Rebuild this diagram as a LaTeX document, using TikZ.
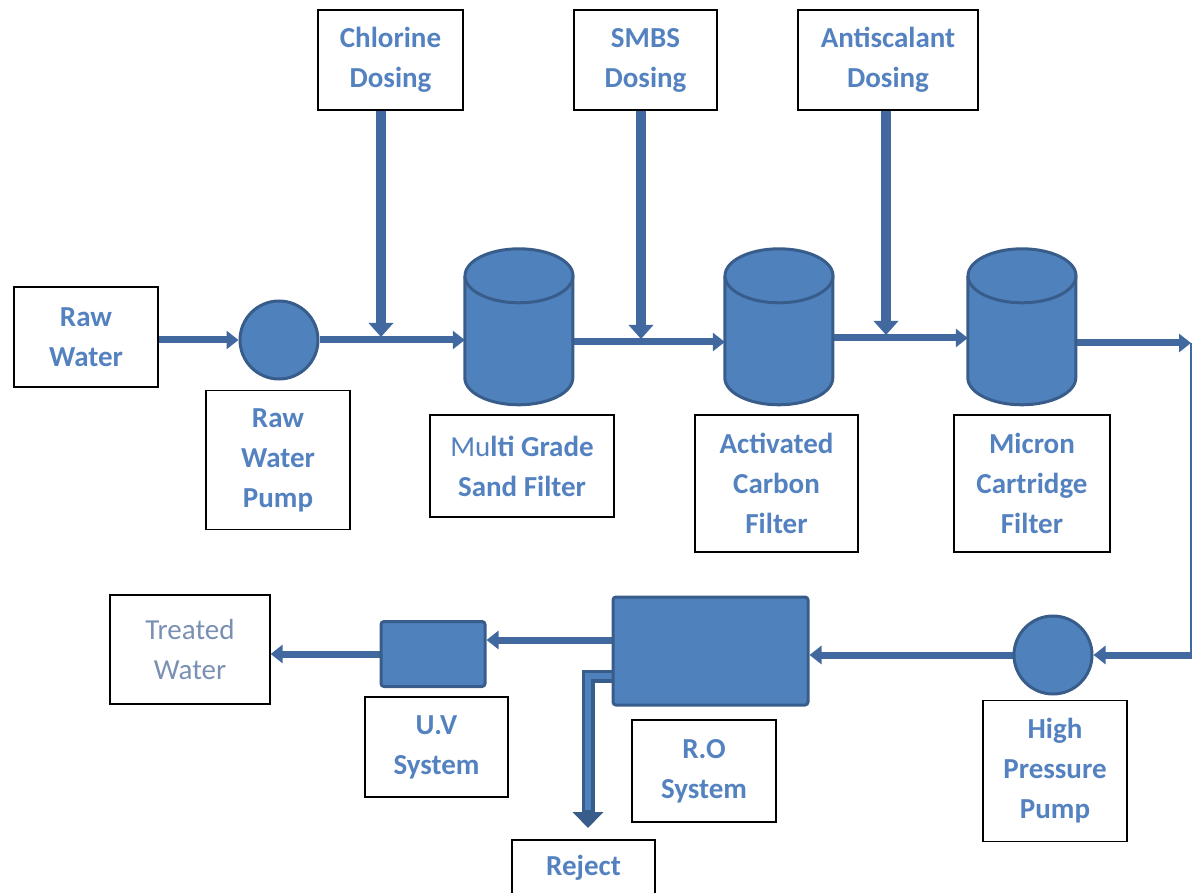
\documentclass[tikz,border=0pt]{standalone}
\usepackage{fontspec}
\setmainfont{Carlito}
\usetikzlibrary{arrows.meta,positioning,backgrounds}

\definecolor{tankfill}{HTML}{4F81BD}
\definecolor{tankedge}{HTML}{385D8A}
\definecolor{pipeblue}{HTML}{41699F}
\definecolor{labelblue}{HTML}{5482C0}
\definecolor{softblue}{HTML}{7A90B2}

% upright cylinder drawn over an empty node
\newcommand{\drawtank}[1]{%
  \fill[tankfill] (#1.north west) ++(0,27) -- ++(0,102)
    arc[start angle=180, end angle=0, x radius=54, y radius=27] -- ++(0,-102) -- cycle;
  \draw[tankedge, line width=3pt] (#1.north west) ++(0,27) -- ++(0,102)
    arc[start angle=180, end angle=0, x radius=54, y radius=27] -- ++(0,-102);
  \draw[tankedge, fill=tankfill, line width=3pt] (#1.north) ++(0,27) ellipse[x radius=54, y radius=27];
}

\begin{document}
\begin{tikzpicture}[
    x=1pt, y=-1pt,
    namebox/.style={draw, line width=1.3pt, fill=white, align=center, text=labelblue, font=\fontsize{29}{40}\selectfont\bfseries, inner sep=0pt},
    pump/.style={circle, draw=tankedge, line width=3pt, fill=tankfill, minimum size=78pt, inner sep=0pt},
    tank/.style={rectangle, minimum width=108pt, minimum height=156pt, inner sep=0pt},
    unit/.style={rectangle, rounded corners=3pt, draw=tankedge, line width=3pt, fill=tankfill, inner sep=0pt},
    pipe/.style={draw=pipeblue, line width=7pt, -{Triangle[length=12pt, width=18pt]}},
    feed/.style={draw=pipeblue, line width=10pt, -{Triangle[length=14pt, width=24pt]}}
  ]
    \useasboundingbox (0,0) rectangle (1192,893);

    % dosing boxes
    \node[namebox, minimum width=145pt, minimum height=100pt] (chl) at (390.5,60) {Chlorine\\Dosing};
    \node[namebox, minimum width=143pt, minimum height=100pt] (smbs) at (645.5,60) {SMBS\\Dosing};
    \node[namebox, minimum width=180pt, minimum height=100pt] (anti) at (888,60) {Antiscalant\\Dosing};

    % pre-treatment line
    \node[namebox, minimum width=144pt, minimum height=100pt] (raw) at (86,337) {Raw\\Water};
    \node[pump] (rwp) at (279,340) {};
    \node[tank] (mgs) at (519,327) {};
    \node[tank] (acf) at (779,327) {};
    \node[tank] (mcf) at (1022,327) {};

    \node[namebox, minimum width=144pt, minimum height=139pt] (rwptag) at (278,460) {Raw\\Water\\Pump};
    \node[namebox, minimum width=184pt, minimum height=102pt] (mgstag) at (522,466) {{\mdseries Mu}lti Grade\\Sand Filter};
    \node[namebox, minimum width=163pt, minimum height=137pt] (acftag) at (776.5,483.5) {Activated\\Carbon\\Filter};
    \node[namebox, minimum width=156pt, minimum height=137pt] (mcftag) at (1032,483.5) {Micron\\Cartridge\\Filter};

    % R.O line
    \node[pump] (hp) at (1053,655) {};
    \node[unit, minimum width=195pt, minimum height=108pt] (ro) at (710.5,651) {};
    \node[unit, minimum width=104pt, minimum height=65pt] (uv) at (433,654) {};

    \node[namebox, minimum width=144pt, minimum height=141pt] (hptag) at (1055,771) {High\\Pressure\\Pump};
    \node[namebox, minimum width=144pt, minimum height=102pt] (rotag) at (704,771) {R.O\\System};
    \node[namebox, minimum width=143pt, minimum height=100pt] (uvtag) at (436.5,747) {U.V\\System};
    \node[namebox, minimum width=160pt, minimum height=109pt, text=softblue, font=\fontsize{29}{40}\selectfont] (treated) at (190,649.5) {Treated\\Water};
    \node[namebox, minimum width=143pt, minimum height=56pt] (reject) at (583.5,868) {Reject};

    \coordinate (ne) at (1191,343);
    \coordinate (se) at (1192,655);
    \coordinate (rejtip) at (588,828);
    \coordinate (chlout) at (381,110);
    \coordinate (smbsout) at (641,110);
    \coordinate (antiout) at (886,110);

    \begin{scope}[on background layer]
      \draw[pipe] (raw.east |- rwp) -- (rwp.west);
      \draw[pipe] (rwp.east) -- (rwp.east -| mgs.west);
      \draw[pipe] (mgs.east |- 0,342) -- (acf.west |- 0,342);
      \draw[pipe] (acf.east |- 0,338) -- (mcf.west |- 0,338);
      \draw[pipe] (mcf.east |- ne) -- (ne);
      \draw[draw=pipeblue, line width=3pt] (ne) -- (ne |- se);
      \draw[pipe] (se) -- (hp.east);
      \draw[pipe] (hp.west) -- (hp.west -| ro.east);
      \draw[pipe] (ro.west |- 0,640) -- (uv.east |- 0,640);
      \draw[pipe] (uv.west) -- (uv.west -| treated.east);

      \draw[feed, shorten >=3pt] (chlout) -- (chlout |- rwp.east);
      \draw[feed, shorten >=3pt] (smbsout) -- (smbsout |- 0,342);
      \draw[feed, shorten >=3pt] (antiout) -- (antiout |- 0,338);

      % reject line
      \draw[draw=tankedge, line width=13pt, -{Triangle[length=16pt, width=30pt]}] (ro.west |- 0,676) -| (rejtip);
      \draw[draw=tankfill, line width=6pt, shorten >=18pt] (ro.west |- 0,676) -| (rejtip);
    \end{scope}

    \drawtank{mgs}
    \drawtank{acf}
    \drawtank{mcf}
  \end{tikzpicture}
\end{document}
